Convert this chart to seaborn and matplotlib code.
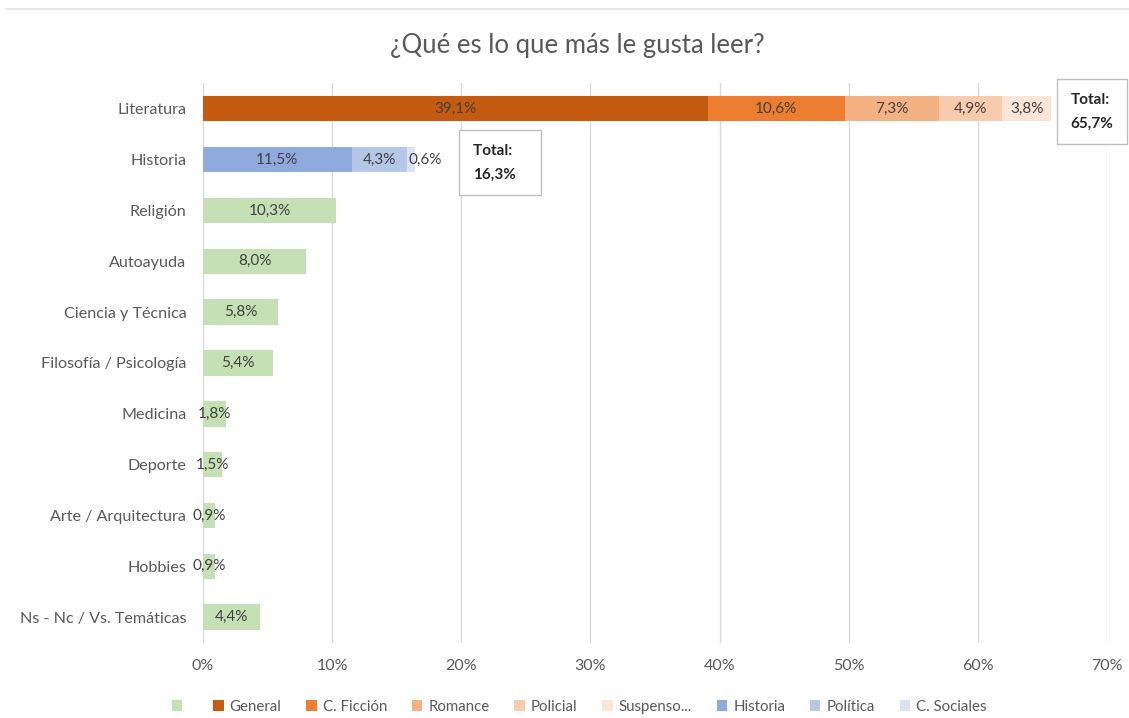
import numpy as np
import pandas as pd
import seaborn as sns
import matplotlib.pyplot as plt
from matplotlib.patches import Patch

# Data
categorias = ['Literatura', 'Historia', 'Religión', 'Autoayuda', 'Ciencia y Técnica',
              'Filosofía / Psicología', 'Medicina', 'Deporte', 'Arte / Arquitectura',
              'Hobbies', 'Ns - Nc / Vs. Temáticas']
series = ['', 'General', 'C. Ficción', 'Romance', 'Policial', 'Suspenso...',
          'Historia', 'Política', 'C. Sociales']
colores = ['#C5E0B4', '#C55A11', '#ED7D31', '#F4B183', '#F8CBAD', '#FBE5D6',
           '#8FAADC', '#B4C7E7', '#DAE3F3']

literatura = [39.1, 10.6, 7.3, 4.9, 3.8]
historia = [11.5, 4.3, 0.6]
otros = [10.3, 8.0, 5.8, 5.4, 1.8, 1.5, 0.9, 0.9, 4.4]
totales = {'Literatura': '65,7%', 'Historia': '16,3%'}

rows = []
for s, v in zip(series[1:6], literatura):
    rows.append(('Literatura', s, v))
for s, v in zip(series[6:], historia):
    rows.append(('Historia', s, v))
for c, v in zip(categorias[2:], otros):
    rows.append((c, '', v))
df = pd.DataFrame(rows, columns=['categoria', 'serie', 'valor'])
df['fin'] = df.groupby('categoria')['valor'].cumsum()
df['inicio'] = df['fin'] - df['valor']

sns.set_theme(style='white')
plt.rcParams['font.family'] = ['Lato', 'DejaVu Sans']

fig = plt.figure(figsize=(11.29, 7.18), dpi=100)
ax = fig.add_axes([0.1798, 0.105, 0.8007, 0.779])

# stacked bars: draw cumulative ends from last series to first
for s, col in reversed(list(zip(series, colores))):
    sub = df[df['serie'] == s]
    sns.barplot(data=sub, x='fin', y='categoria', order=categorias, color=col,
                width=0.5, saturation=1, linewidth=0, ax=ax, zorder=2)

ax.set_xlim(0, 70)
ax.set_xticks(np.arange(0, 71, 10))
ax.set_xticklabels([f'{t}%' for t in range(0, 71, 10)], color='#595959', fontsize=11.5)
ax.tick_params(axis='x', length=0, pad=12)
ax.tick_params(axis='y', length=0, pad=12, labelsize=11.6, labelcolor='#595959')
ax.xaxis.grid(True, color='#D9D9D9', linewidth=1)
ax.set_axisbelow(True)
for sp in ax.spines.values():
    sp.set_visible(False)
ax.set_xlabel('')
ax.set_ylabel('')

# segment labels
for _, r in df.iterrows():
    y = categorias.index(r['categoria'])
    txt = f"{r['valor']:.1f}%".replace('.', ',')
    if r['valor'] < 1 and r['categoria'] == 'Historia':
        ax.text(r['inicio'] + 0.1, y, txt, ha='left', va='center',
                fontsize=11, color='#404040', zorder=5)
    else:
        ax.text((r['inicio'] + r['fin']) / 2, y, txt, ha='center', va='center',
                fontsize=11, color='#404040', zorder=5)

# total boxes
ax.text(67.2, 0.06, 'Total:\n' + totales['Literatura'], ha='left', va='center',
        fontsize=11, fontweight='bold', color='#262626', linespacing=1.9, zorder=6,
        bbox=dict(boxstyle='square,pad=0.9', fc='white', ec='#BFBFBF', lw=1))
ax.text(20.9, 1.06, 'Total:    \n' + totales['Historia'], ha='left', va='center',
        fontsize=11, fontweight='bold', color='#262626', linespacing=1.9, zorder=6,
        bbox=dict(boxstyle='square,pad=0.9', fc='white', ec='#BFBFBF', lw=1))

fig.text(0.511, 0.937, '¿Qué es lo que más le gusta leer?', ha='center', va='center',
         fontsize=18.5, color='#595959')

# faint top border line
fig.add_artist(plt.Line2D([0.005, 1.0], [0.988, 0.988], color='#E0E0E0', lw=1.2))

handles = [Patch(facecolor=c, edgecolor='none') for c in colores]
fig.legend(handles, series, loc='center', bbox_to_anchor=(0.513, 0.016), ncol=9,
           frameon=False, fontsize=10.8, handlelength=0.7, handleheight=0.7,
           handletextpad=0.4, columnspacing=1.65, labelcolor='#595959')

fig.savefig('out.png', dpi=100)
